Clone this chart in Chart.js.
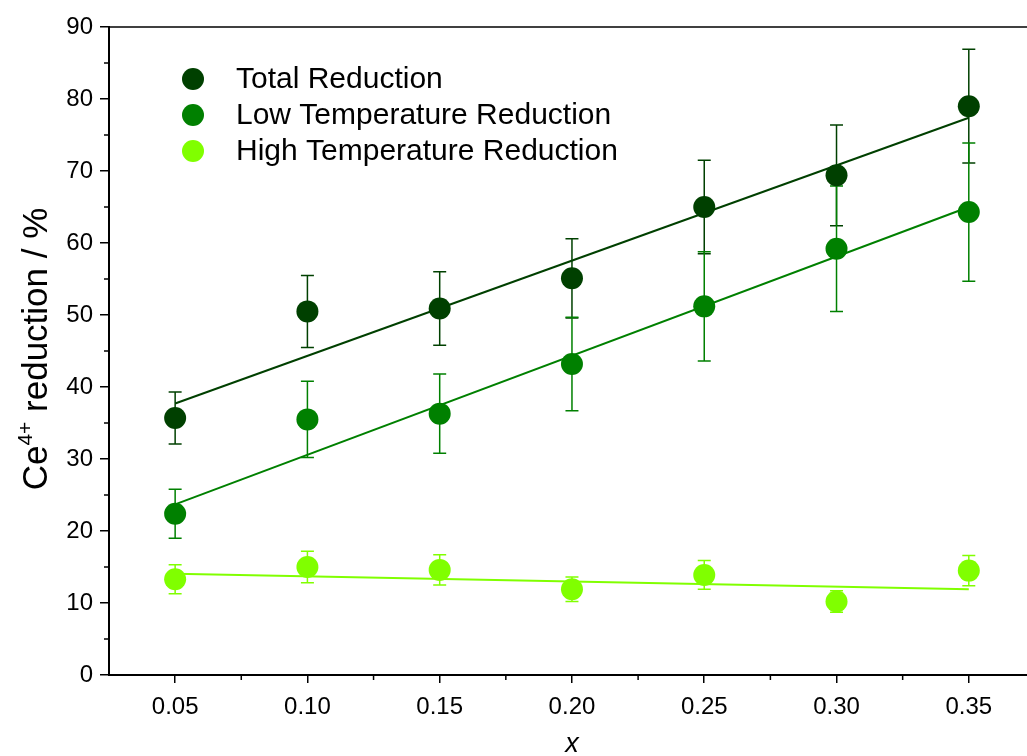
<!DOCTYPE html>
<html>
<head>
<meta charset="utf-8">
<script src="https://cdn.jsdelivr.net/npm/chart.js@4/dist/chart.umd.min.js"></script>
<style>
  html, body { margin: 0; padding: 0; background: #fff; overflow: hidden; }
  #wrap { position: relative; width: 1027px; height: 756px; }
</style>
</head>
<body>
<div id="wrap"><canvas id="c" width="1027" height="756"></canvas></div>
<script>
// Ce4+ reduction versus composition x
const xValues = [0.05, 0.10, 0.15, 0.20, 0.25, 0.30, 0.35];

const totalReduction = [35.7, 50.5, 50.9, 55.1, 65.0, 69.4, 79.0];
const totalError     = [3.6, 5.0, 5.1, 5.5, 6.5, 7.0, 7.9];

const lowTempReduction = [22.4, 35.5, 36.3, 43.2, 51.2, 59.2, 64.3];
const lowTempError     = [3.4, 5.3, 5.5, 6.5, 7.6, 8.7, 9.6];

const highTempReduction = [13.3, 15.0, 14.6, 11.9, 13.9, 10.2, 14.5];
const highTempError     = [2.0, 2.2, 2.1, 1.7, 2.0, 1.5, 2.1];

// linear fit end points
const fitX         = [0.05, 0.35];
const totalFit     = [37.7, 77.4];
const lowTempFit   = [23.7, 65.0];
const highTempFit  = [14.05, 11.9];

const xTicks      = [0.05, 0.10, 0.15, 0.20, 0.25, 0.30, 0.35];
const xMinorTicks = [0.075, 0.125, 0.175, 0.225, 0.275, 0.325];
const yTicks      = [0, 10, 20, 30, 40, 50, 60, 70, 80, 90];
const yMinorTicks = [5, 15, 25, 35, 45, 55, 65, 75, 85];

const seriesNames = ['Total Reduction', 'Low Temperature Reduction', 'High Temperature Reduction'];
const seriesColors = ['#004000', '#008000', '#80ff00'];

const FONT = "'Liberation Sans', Arial, Helvetica, sans-serif";

function points(xs, ys) { return xs.map((x, i) => ({ x: x, y: ys[i] })); }

function markerSet(i, values, errors) {
  return {
    label: seriesNames[i],
    data: points(xValues, values),
    errors: errors,
    backgroundColor: seriesColors[i],
    borderColor: seriesColors[i],
    borderWidth: 0,
    pointRadius: 11,
    pointHoverRadius: 11,
    showLine: false,
    order: 0
  };
}

function fitSet(i, values) {
  return {
    label: seriesNames[i] + ' fit',
    data: points(fitX, values),
    borderColor: seriesColors[i],
    backgroundColor: seriesColors[i],
    borderWidth: 2,
    pointRadius: 0,
    pointHoverRadius: 0,
    showLine: true,
    order: 1
  };
}

// vertical error bars with caps, drawn underneath the markers
const errorBars = {
  id: 'errorBars',
  beforeDatasetsDraw(chart) {
    const ctx = chart.ctx;
    const ys = chart.scales.y;
    chart.data.datasets.forEach((ds, i) => {
      if (!ds.errors) return;
      const meta = chart.getDatasetMeta(i);
      ctx.save();
      ctx.strokeStyle = ds.borderColor;
      ctx.lineWidth = 1.5;
      meta.data.forEach((pt, j) => {
        const v = ds.data[j].y, e = ds.errors[j];
        const top = ys.getPixelForValue(v + e);
        const bot = ys.getPixelForValue(v - e);
        ctx.beginPath();
        ctx.moveTo(pt.x, top); ctx.lineTo(pt.x, bot);
        ctx.moveTo(pt.x - 6.5, top); ctx.lineTo(pt.x + 6.5, top);
        ctx.moveTo(pt.x - 6.5, bot); ctx.lineTo(pt.x + 6.5, bot);
        ctx.stroke();
      });
      ctx.restore();
    });
  }
};

// minor ticks, top frame, axis titles and the in-plot legend
const decorations = {
  id: 'decorations',
  afterDraw(chart) {
    const ctx = chart.ctx;
    const xs = chart.scales.x, ys = chart.scales.y;
    const area = chart.chartArea;
    ctx.save();
    ctx.strokeStyle = '#000';
    ctx.lineWidth = 1.5;
    ctx.beginPath();
    xMinorTicks.forEach(v => {
      const px = xs.getPixelForValue(v);
      ctx.moveTo(px, area.bottom); ctx.lineTo(px, area.bottom + 5);
    });
    yMinorTicks.forEach(v => {
      const py = ys.getPixelForValue(v);
      ctx.moveTo(area.left, py); ctx.lineTo(area.left - 5, py);
    });
    ctx.stroke();

    // top frame
    ctx.lineWidth = 1.5;
    ctx.beginPath();
    ctx.moveTo(area.left, area.top); ctx.lineTo(area.right, area.top);
    ctx.stroke();

    // y axis title with superscript
    ctx.fillStyle = '#000';
    ctx.textBaseline = 'alphabetic';
    ctx.textAlign = 'left';
    const big = "35px " + FONT, small = "21px " + FONT;
    const parts = [['Ce', big, 0], ['4+', small, -15], [' reduction / %', big, 0]];
    let total = 0;
    parts.forEach(p => { ctx.font = p[1]; total += ctx.measureText(p[0]).width; });
    ctx.translate(47, 349 + total / 2);
    ctx.rotate(-Math.PI / 2);
    let cx = 0;
    parts.forEach(p => {
      ctx.font = p[1];
      ctx.fillText(p[0], cx, p[2]);
      cx += ctx.measureText(p[0]).width;
    });
    ctx.setTransform(1, 0, 0, 1, 0, 0);

    // x axis title
    ctx.font = "italic 27px " + FONT;
    ctx.textAlign = 'center';
    ctx.fillText('x', xs.getPixelForValue(0.2), 752);

    // legend
    ctx.textAlign = 'left';
    ctx.font = "30px " + FONT;
    seriesNames.forEach((name, i) => {
      const cy = 79 + i * 36;
      ctx.fillStyle = seriesColors[i];
      ctx.beginPath();
      ctx.arc(193, cy, 11, 0, Math.PI * 2);
      ctx.fill();
      ctx.fillStyle = '#000';
      ctx.fillText(name, 236, cy + 9);
    });
    ctx.restore();
  }
};

new Chart(document.getElementById('c').getContext('2d'), {
  type: 'scatter',
  data: {
    datasets: [
      markerSet(0, totalReduction, totalError),
      markerSet(1, lowTempReduction, lowTempError),
      markerSet(2, highTempReduction, highTempError),
      fitSet(0, totalFit),
      fitSet(1, lowTempFit),
      fitSet(2, highTempFit)
    ]
  },
  options: {
    responsive: false,
    animation: false,
    layout: { autoPadding: false, padding: { top: 27, right: 0, left: 0, bottom: 0 } },
    plugins: { legend: { display: false }, tooltip: { enabled: false } },
    scales: {
      x: {
        type: 'linear',
        min: 0.025,
        max: 0.372,
        afterBuildTicks: s => { s.ticks = xTicks.map(v => ({ value: v })); },
        afterFit: s => { s.height = 81; s.paddingLeft = 0; s.paddingRight = 0; },
        ticks: {
          color: '#000',
          font: { family: FONT, size: 24 },
          padding: 10,
          maxRotation: 0,
          autoSkip: false,
          callback: v => Number(v).toFixed(2)
        },
        grid: { drawOnChartArea: false, drawTicks: true, tickLength: 8, color: '#000', lineWidth: 1.5 },
        border: { display: true, color: '#000', width: 2 }
      },
      y: {
        type: 'linear',
        min: 0,
        max: 90,
        afterBuildTicks: s => { s.ticks = yTicks.map(v => ({ value: v })); },
        afterFit: s => { s.width = 109; },
        ticks: {
          color: '#000',
          font: { family: FONT, size: 24 },
          padding: 7,
          autoSkip: false
        },
        grid: { drawOnChartArea: false, drawTicks: true, tickLength: 9, color: '#000', lineWidth: 1.5 },
        border: { display: true, color: '#000', width: 2 }
      }
    }
  },
  plugins: [errorBars, decorations]
});
</script>
</body>
</html>
